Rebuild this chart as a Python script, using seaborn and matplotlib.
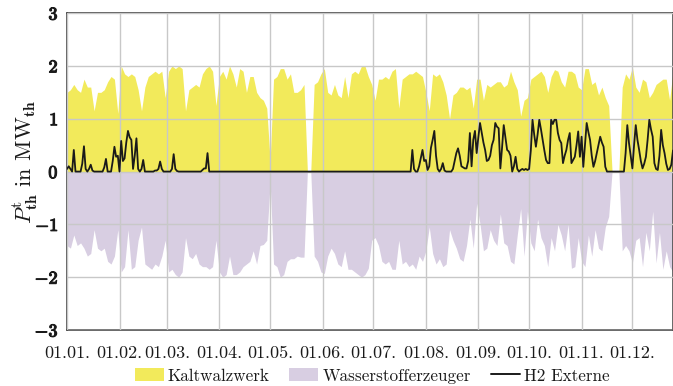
import numpy as np
import pandas as pd
import matplotlib
matplotlib.use("Agg")
import matplotlib.pyplot as plt
import matplotlib.patheffects as pe
from matplotlib.patches import Patch
from matplotlib.lines import Line2D
import seaborn as sns

# ---------------- data ----------------
# Kaltwalzwerk (positive, every 2 days from 01.01.)
kaltwalzwerk = [
    1.50, 1.55, 1.65, 1.55, 1.50, 1.75, 1.60, 1.60, 1.15, 1.50,
    1.50, 1.55, 1.70, 1.80, 1.75, 1.10, 2.00, 1.85, 1.80, 1.85,
    1.80, 1.55, 1.15, 1.60, 1.80, 1.85, 1.90, 1.85, 1.90, 1.40,
    1.90, 2.00, 1.95, 2.00, 1.95, 1.15, 1.55, 1.60, 1.65, 1.60,
    1.85, 1.95, 2.00, 1.90, 1.25, 1.80, 1.90, 1.75, 2.00, 1.85,
    1.60, 1.95, 1.90, 1.50, 1.80, 1.80, 1.50, 1.40, 1.35, 1.20,
    0.20, 1.75, 1.80, 1.95, 1.95, 1.75, 1.85, 1.50, 1.50, 1.55,
    1.65, 0.00, 0.00, 1.65, 1.70, 1.85, 1.95, 1.50, 1.45, 1.65,
    1.45, 1.40, 1.80, 1.40, 1.85, 1.90, 1.85, 2.00, 2.00, 1.80,
    1.65, 1.35, 1.75, 1.75, 1.80, 1.75, 1.90, 1.95, 1.20, 1.75,
    1.80, 1.85, 1.85, 1.90, 1.85, 1.80, 1.50, 1.15, 1.85, 1.80,
    1.85, 1.70, 1.45, 1.00, 1.45, 1.50, 1.60, 1.60, 1.55, 1.60,
    1.20, 1.75, 1.75, 1.35, 1.65, 1.60, 1.65, 1.70, 1.70, 1.60,
    1.65, 1.90, 1.70, 1.55, 1.05, 1.35, 1.40, 1.75, 1.80, 1.85,
    1.90, 1.80, 1.50, 1.80, 1.93, 1.90, 1.70, 1.60, 1.90, 1.90,
    1.85, 1.60, 1.55, 1.95, 1.95, 1.65, 1.70, 1.45, 1.60, 1.40,
    1.25, 0.00, 0.00, 0.00, 1.60, 1.85, 1.75, 1.98, 1.60, 1.50,
    1.75, 1.70, 1.40, 1.50, 1.65, 1.70, 1.75, 1.75, 1.35, 1.90,
]

# Wasserstofferzeuger (negative, every 2 days from 01.01.)
wasserstofferzeuger = [
    -1.40, -1.45, -1.20, -1.40, -1.35, -1.45, -1.60, -1.55, -1.10, -1.45,
    -1.50, -1.45, -1.70, -1.75, -1.60, -1.10, -1.90, -1.80, -1.10, -1.85,
    -1.80, -1.30, -1.05, -1.75, -1.80, -1.85, -1.75, -1.80, -1.60, -1.30,
    -1.90, -1.85, -1.95, -2.00, -1.90, -1.25, -1.60, -1.65, -1.55, -1.75,
    -1.80, -1.80, -1.85, -1.80, -1.30, -1.90, -2.00, -1.95, -1.60, -1.95,
    -1.95, -1.90, -1.80, -1.75, -1.70, -1.50, -1.75, -1.40, -1.38, -1.30,
    -0.20, -1.75, -1.80, -2.00, -1.95, -1.70, -1.65, -1.65, -1.60, -1.62,
    -1.62, 0.00, 0.00, -1.60, -1.70, -1.90, -1.93, -1.60, -1.45, -1.55,
    -1.75, -1.80, -1.50, -1.85, -1.85, -1.90, -1.95, -2.00, -1.95, -1.83,
    -1.30, -1.25, -1.40, -1.70, -1.75, -1.70, -1.85, -1.85, -1.30, -1.75,
    -1.70, -1.80, -1.75, -1.85, -1.60, -1.70, -1.50, -1.05, -1.55, -1.75,
    -1.65, -1.80, -1.75, -1.10, -1.30, -1.45, -1.65, -1.70, -1.40, -0.90,
    -1.45, -0.60, -1.00, -1.50, -1.45, -1.10, -1.30, -1.40, -0.80, -1.35,
    -1.40, -1.70, -1.75, -1.20, -0.70, -1.60, -0.75, -1.35, -1.50, -0.90,
    -1.25, -1.40, -1.80, -1.25, -1.50, -1.00, -1.20, -1.50, -1.00, -1.83,
    -1.80, -1.25, -1.70, -1.80, -1.20, -1.60, -1.10, -1.45, -1.50, -1.05,
    -0.85, 0.00, 0.00, 0.00, -1.50, -1.40, -1.50, -1.73, -1.30, -1.25,
    -1.80, -1.15, -1.50, -0.75, -1.73, -1.15, -1.85, -1.50, -1.80, -1.90,
]

# H2 Externe (daily from 01.01.)
h2_externe = [
    0.05, 0.10, 0.05, 0.00, 0.41, 0.00, 0.00, 0.00, 0.00, 0.15,
    0.48, 0.05, 0.00, 0.05, 0.13, 0.02, 0.00, 0.00, 0.00, 0.00,
    0.00, 0.00, 0.08, 0.24, 0.00, 0.00, 0.00, 0.20, 0.47, 0.28,
    0.30, 0.00, 0.58, 0.20, 0.25, 0.55, 0.77, 0.65, 0.60, 0.05,
    0.30, 0.63, 0.05, 0.00, 0.05, 0.22, 0.00, 0.00, 0.00, 0.00,
    0.00, 0.00, 0.02, 0.02, 0.05, 0.19, 0.05, 0.00, 0.00, 0.00,
    0.00, 0.00, 0.05, 0.33, 0.05, 0.01, 0.00, 0.00, 0.00, 0.00,
    0.00, 0.00, 0.00, 0.00, 0.00, 0.00, 0.00, 0.00, 0.00, 0.00,
    0.03, 0.06, 0.06, 0.35, 0.00, 0.00, 0.00, 0.00, 0.00, 0.00,
    0.00, 0.00, 0.00, 0.00, 0.00, 0.00, 0.00, 0.00, 0.00, 0.00,
    0.00, 0.00, 0.00, 0.00, 0.00, 0.00, 0.00, 0.00, 0.00, 0.00,
    0.00, 0.00, 0.00, 0.00, 0.00, 0.00, 0.00, 0.00, 0.00, 0.00,
    0.00, 0.00, 0.00, 0.00, 0.00, 0.00, 0.00, 0.00, 0.00, 0.00,
    0.00, 0.00, 0.00, 0.00, 0.00, 0.00, 0.00, 0.00, 0.00, 0.00,
    0.00, 0.00, 0.00, 0.00, 0.00, 0.00, 0.00, 0.00, 0.00, 0.00,
    0.00, 0.00, 0.00, 0.00, 0.00, 0.00, 0.00, 0.00, 0.00, 0.00,
    0.00, 0.00, 0.00, 0.00, 0.00, 0.00, 0.00, 0.00, 0.00, 0.00,
    0.00, 0.00, 0.00, 0.00, 0.00, 0.00, 0.00, 0.00, 0.00, 0.00,
    0.00, 0.00, 0.00, 0.00, 0.00, 0.00, 0.00, 0.00, 0.00, 0.00,
    0.00, 0.00, 0.00, 0.00, 0.00, 0.00, 0.00, 0.00, 0.00, 0.00,
    0.00, 0.00, 0.00, 0.00, 0.41, 0.05, 0.00, 0.00, 0.10, 0.25,
    0.41, 0.20, 0.22, 0.03, 0.10, 0.45, 0.60, 0.77, 0.30, 0.05,
    0.00, 0.05, 0.16, 0.02, 0.00, 0.00, 0.00, 0.00, 0.05, 0.20,
    0.35, 0.44, 0.30, 0.10, 0.08, 0.06, 0.06, 0.20, 0.73, 0.10,
    0.60, 0.77, 0.35, 0.65, 0.92, 0.73, 0.55, 0.41, 0.20, 0.22,
    0.30, 0.50, 0.60, 0.92, 0.85, 0.82, 0.06, 0.45, 0.88, 0.65,
    0.41, 0.38, 0.30, 0.00, 0.10, 0.28, 0.05, 0.00, 0.03, 0.05,
    0.03, 0.05, 0.03, 0.05, 0.40, 0.98, 0.70, 0.47, 0.70, 0.98,
    0.80, 0.60, 0.40, 0.22, 0.16, 0.16, 0.98, 0.90, 0.98, 0.98,
    0.73, 0.60, 0.54, 0.16, 0.30, 0.41, 0.60, 0.73, 0.16, 0.22,
    0.28, 0.50, 0.76, 0.28, 0.66, 0.09, 0.50, 0.92, 0.75, 0.60,
    0.30, 0.09, 0.20, 0.35, 0.50, 0.66, 0.55, 0.47, 0.09, 0.00,
    0.00, 0.00, 0.00, 0.00, 0.00, 0.00, 0.00, 0.00, 0.00, 0.00,
    0.35, 0.88, 0.54, 0.30, 0.06, 0.50, 0.88, 0.60, 0.41, 0.20,
    0.06, 0.15, 0.28, 0.60, 0.98, 0.80, 0.66, 0.16, 0.05, 0.03,
    0.30, 0.79, 0.50, 0.35, 0.15, 0.03, 0.05, 0.13, 0.40,
]

month_labels = ["01.01.", "01.02.", "01.03.", "01.04.", "01.05.", "01.06.",
                "01.07.", "01.08.", "01.09.", "01.10.", "01.11.", "01.12."]
y_ticks = [-3, -2, -1, 0, 1, 2, 3]
series_names = ["Kaltwalzwerk", "Wasserstofferzeuger", "H2 Externe"]

# ---------------- build frames ----------------
start = pd.Timestamp("2021-01-01")
df_fill = pd.DataFrame({
    "date": pd.date_range(start, periods=len(kaltwalzwerk), freq="2D"),
    "kw": kaltwalzwerk,
    "wz": wasserstofferzeuger[:len(kaltwalzwerk)],
})
df_line = pd.DataFrame({
    "date": pd.date_range(start, periods=len(h2_externe), freq="D"),
    "h2": h2_externe,
})

# ---------------- style ----------------
sns.set_theme(style="whitegrid")
plt.rcParams["font.family"] = ["cmr10", "DejaVu Serif"]
plt.rcParams["mathtext.fontset"] = "cm"
plt.rcParams["axes.unicode_minus"] = False
plt.rcParams["axes.formatter.use_mathtext"] = True

c_yellow = "#f2ea5b"
c_purple = "#d8cee2"
c_line = "#1a1a1a"
c_grid = "#c8c8c8"

fig = plt.figure(figsize=(6.73, 3.86), dpi=100)
ax = fig.add_axes([0.0996, 0.145, 0.9004, 0.821])

ax.fill_between(df_fill["date"], 0, df_fill["kw"], color=c_yellow, lw=0, zorder=1)
ax.fill_between(df_fill["date"], df_fill["wz"], 0, color=c_purple, lw=0, zorder=1)
sns.lineplot(data=df_line, x="date", y="h2", ax=ax, color=c_line, lw=1.3,
             zorder=3, legend=False)

ax.set_axisbelow(False)
ax.grid(True, color=c_grid, lw=1.0, zorder=2)
for s in ax.spines.values():
    s.set_color("#404040")
    s.set_linewidth(1.1)

ax.set_ylim(-3, 3)
ax.set_yticks(y_ticks)
ylabels = ax.set_yticklabels(
    [r"$\mathbf{%d}$" % v if v >= 0 else r"$\mathbf{-%d}$" % -v for v in y_ticks],
    fontsize=13)
for t in ylabels:
    t.set_path_effects([pe.withStroke(linewidth=0.8, foreground="#1a1a1a")])
month_dates = pd.date_range(start, periods=12, freq="MS")
ax.set_xticks(month_dates)
ax.set_xticklabels(month_labels, fontsize=13)
ax.set_xlim(start, start + pd.Timedelta(days=358))
ax.tick_params(axis="both", length=0, colors="#1a1a1a")
ax.tick_params(axis="y", pad=6)
ax.tick_params(axis="x", pad=11)

ax.set_xlabel("")
ax.set_ylabel(r"$P^{\mathrm{t}}_{\mathbf{th}}$ in MW$_{\mathbf{th}}$", fontsize=16,
              color="#1a1a1a")
ax.yaxis.set_label_coords(-0.045, 0.53)

handles = [Patch(facecolor=c_yellow, edgecolor="none"),
           Patch(facecolor=c_purple, edgecolor="none"),
           Line2D([0], [0], color=c_line, lw=1.4)]
fig.legend(handles, series_names, loc="center", bbox_to_anchor=(0.553, 0.026),
           ncol=3, frameon=False, fontsize=12.3, handlelength=1.7,
           handleheight=0.8, columnspacing=1.15, handletextpad=0.25,
           labelcolor="#1a1a1a")

fig.savefig("out.png", dpi=100)
